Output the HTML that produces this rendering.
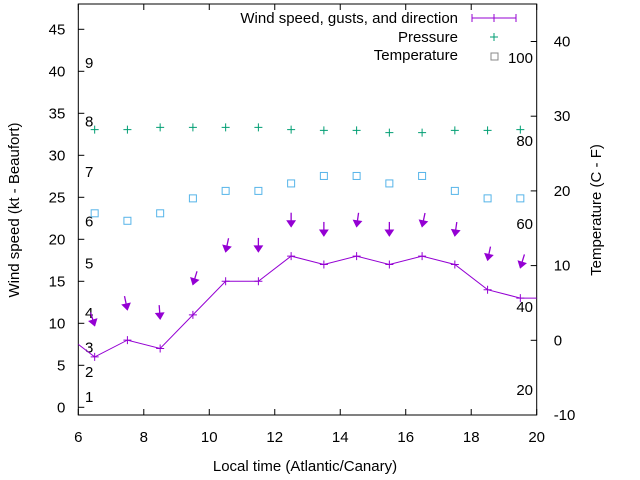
<!DOCTYPE html>
<html><head><meta charset="utf-8"><style>
body{margin:0;background:#fff}
svg{display:block;font-family:"Liberation Sans",sans-serif;font-size:15px}
</style></head><body>
<svg id="chart" width="640" height="480" viewBox="0 0 640 480" xmlns="http://www.w3.org/2000/svg">
<g id="axes"></g><g id="marks"></g>
</svg>
<script>
const hours = [6.5,7.5,8.5,9.5,10.5,11.5,12.5,13.5,14.5,15.5,16.5,17.5,18.5,19.5];
const windLineX = [5.5,6.5,7.5,8.5,9.5,10.5,11.5,12.5,13.5,14.5,15.5,16.5,17.5,18.5,19.5,20.5];
const windSpeed = [9,6,8,7,11,15,15,18,17,18,17,18,17,14,13,13];
const gusts = [9.7,11.6,10.5,14.6,18.5,18.5,21.5,20.4,21.5,20.4,21.5,20.4,17.5,16.6];
const directions = [-17,-12,-4,17,12,0,0,0,8,0,12,8,12,17];
const pressure = [28.2,28.2,28.5,28.5,28.5,28.5,28.2,28.1,28.1,27.8,27.8,28.1,28.1,28.2];
const temperature = [17,16,17,19,20,20,21,22,22,21,22,20,19,19];
const xTicks = [6,8,10,12,14,16,18,20];
const yTicks = [0,5,10,15,20,25,30,35,40,45];
const y2Ticks = [-10,0,10,20,30,40];
const beaufortLabels = ["1","2","3","4","5","6","7","8","9"];
const beaufortKt = [1.2,4.2,7.1,11.2,17.1,22.1,28,34,41];
const fahrenheitLabels = [20,40,60,80,100];

const L=78.3,R=536.7,T=4,B=415;
const xs=v=>L+(v-6)*(R-L)/14;
const ys=v=>407.3-v*8.4;
const y2=v=>41.5+(40-v)*(415-41.5)/50;
const NS="http://www.w3.org/2000/svg";
const axes=document.getElementById('axes'),marks=document.getElementById('marks');
function el(tag,attrs,parent,text){const e=document.createElementNS(NS,tag);for(const k in attrs)e.setAttribute(k,attrs[k]);if(text!==undefined)e.textContent=text;parent.appendChild(e);return e;}

let t;
t=el('rect',{x:L,y:T,width:R-L,height:B-T,fill:'none',stroke:'#000','stroke-width':1},axes);

xTicks.forEach(v=>{const x=xs(v);
 el('line',{x1:x,y1:B,x2:x,y2:B-6,stroke:'#000'},axes);el('line',{x1:x,y1:T,x2:x,y2:T+6,stroke:'#000'},axes);
 t=el('text',{x:x,y:B+27,'text-anchor':'middle'},axes,v);
 });
yTicks.forEach(v=>{const y=ys(v);
 el('line',{x1:L,y1:y,x2:L+6,y2:y,stroke:'#000'},axes);
 t=el('text',{x:L-13,y:y+5,'text-anchor':'end'},axes,v);
 });
y2Ticks.forEach(v=>{const y=y2(v);
 el('line',{x1:R,y1:y,x2:R-6,y2:y,stroke:'#000'},axes);
 t=el('text',{x:R+17,y:y+5,'text-anchor':'start'},axes,v);
 });
beaufortLabels.forEach((s,i)=>{t=el('text',{x:85,y:ys(beaufortKt[i])+5},axes,s);
 });
fahrenheitLabels.forEach(f=>{const c=(f-32)*5/9;t=el('text',{x:533,y:y2(c)+5,'text-anchor':'end'},axes,f);
 });
t=el('text',{x:305,y:471,'text-anchor':'middle'},axes,'Local time (Atlantic/Canary)');

t=el('text',{x:0,y:0,'text-anchor':'middle',transform:'translate(19,210) rotate(-90)'},axes,'Wind speed (kt - Beaufort)');

t=el('text',{x:0,y:0,'text-anchor':'middle',transform:'translate(601,210) rotate(-90)'},axes,'Temperature (C - F)');


// clip
const defs=el('defs',{},marks);const cp=el('clipPath',{id:'clip'},defs);el('rect',{x:L,y:T,width:R-L,height:B-T},cp);
const W='#9400d3',G='#009e73',Bl='#56b4e9';
const g=el('g',{'clip-path':'url(#clip)'},marks);
t=el('polyline',{points:windLineX.map((x,i)=>xs(x)+','+ys(windSpeed[i])).join(' '),fill:'none',stroke:W,'stroke-width':1},g);

windLineX.forEach((x,i)=>{const px=xs(x),py=ys(windSpeed[i]);
 t=el('path',{d:`M${px-4},${py}h8M${px},${py-4}v8`,stroke:W},g);
 });
hours.forEach((h,i)=>{const hx=xs(h),hy=ys(gusts[i]);const a=directions[i]*Math.PI/180;const len=14;
 const ux=Math.sin(a),uy=Math.cos(a);const tx=hx+ux*len,ty=hy-uy*len;
 const gg=el('g',{},marks);
 el('line',{x1:tx,y1:ty,x2:hx,y2:hy,stroke:W,'stroke-width':1.3},gg);
 const bx=hx+ux*6,by=hy-uy*6,px=uy*4,py=ux*4;
 el('polygon',{points:`${hx},${hy} ${bx+px},${by+py} ${bx-px},${by-py}`,fill:W,stroke:W},gg);});
hours.forEach((h,i)=>{const px=xs(h),py=y2(pressure[i]);
 t=el('path',{d:`M${px-4},${py}h8M${px},${py-4}v8`,stroke:G},marks);
 });
hours.forEach((h,i)=>{const px=xs(h),py=y2(temperature[i]);
 t=el('rect',{x:px-3.5,y:py-3.5,width:7,height:7,fill:'none',stroke:Bl},marks);
 });

// legend
const lg=el('g',{},marks);
t=el('text',{x:458,y:23,'text-anchor':'end'},lg,'Wind speed, gusts, and direction');
el('path',{d:'M472,18h44M472,14v8M516,14v8M494,14v8',stroke:W},lg);
t=el('text',{x:458,y:42,'text-anchor':'end'},lg,'Pressure');
el('path',{d:'M490,37h8M494,33v8',stroke:G},lg);
t=el('text',{x:458,y:60,'text-anchor':'end'},lg,'Temperature');
el('rect',{x:491,y:53,width:7,height:7,fill:'none',stroke:'#888'},lg);
</script>
</body></html>
